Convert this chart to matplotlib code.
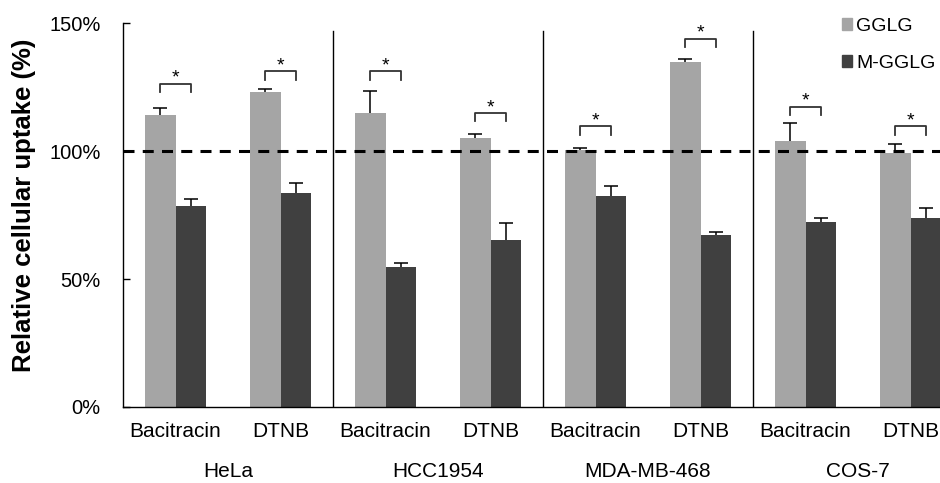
import numpy as np
import matplotlib
matplotlib.use('Agg')
from matplotlib import pyplot as plt
from matplotlib.patches import Patch
from matplotlib.transforms import blended_transform_factory

plt.rcParams['font.family'] = ['Liberation Sans', 'DejaVu Sans']

# 数据
cells = ['HeLa', 'HCC1954', 'MDA-MB-468', 'COS-7']
inhibitors = ['Bacitracin', 'DTNB']
gglg = [114, 123, 115, 105, 100.4, 135, 104, 99.2]
gglg_err = [3, 1.4, 8.4, 1.9, 1.0, 0.9, 7, 3.7]
mgglg = [78.5, 83.7, 54.6, 65.2, 82.4, 67.2, 72.2, 73.8]
mgglg_err = [2.8, 3.9, 1.6, 6.8, 4.0, 1.4, 1.7, 3.8]
sig_height = [126.4, 131.2, 131.2, 115, 109.7, 144, 117.4, 109.7]
legend_labels = ['GGLG', 'M-GGLG']

c1 = '#a5a5a5'
c2 = '#404040'

fig = plt.figure(figsize=(9.4, 4.83), dpi=100)
ax = fig.add_axes([123 / 940, 1 - 407 / 483, 840 / 940, 383.7 / 483])

n = len(gglg)
x = np.arange(n)
w = 0.286
ax.bar(x - w / 2, gglg, w, color=c1)
ax.bar(x + w / 2, mgglg, w, color=c2)
for xs, ys, es in [(x - w / 2, gglg, gglg_err), (x + w / 2, mgglg, mgglg_err)]:
    eb = ax.errorbar(xs, ys, yerr=[np.zeros(n), es], fmt='none',
                     ecolor='black', elinewidth=1.1, capsize=5, capthick=1.1)
    eb[1][0].set_visible(False)  # 只保留上方的横线

# 显著性标记
for i in range(n):
    h = sig_height[i]
    ax.plot([x[i] - w / 2, x[i] - w / 2, x[i] + w / 2, x[i] + w / 2],
            [h - 3.2, h, h, h - 3.2], color='#333333', lw=1.3)
    ax.text(x[i], h + 0.3, '*', ha='center', va='baseline', fontsize=14)

# 100% 虚线
ax.axhline(100, color='black', lw=2.2, linestyle=(0, (3.6, 2.7)), zorder=5)

# 分隔线
for s in [1.5, 3.5, 5.5]:
    ax.plot([s, s], [0, 147], color='black', lw=1.0)

ax.set_xlim(-0.5, n - 0.5)
ax.set_ylim(0, 150)
ax.set_yticks([0, 50, 100, 150])
ax.set_yticklabels(['0%', '50%', '100%', '150%'])
ax.tick_params(axis='y', direction='in', length=5, width=1, pad=16, labelsize=14.5)
ax.set_xticks(x)
ax.set_xticklabels(inhibitors * len(cells))
ax.tick_params(axis='x', length=0, pad=11, labelsize=15)

ax.spines['top'].set_visible(False)
ax.spines['right'].set_visible(False)
ax.spines['left'].set_linewidth(1.0)
ax.spines['bottom'].set_linewidth(1.0)

trans = blended_transform_factory(ax.transData, ax.transAxes)
for j, c in enumerate(cells):
    ax.text(2 * j + 0.5, -0.167, c, transform=trans, ha='center', va='center', fontsize=15)

fig.text(24 / 940, 1 - 205 / 483, 'Relative cellular uptake (%)', rotation=90,
         ha='center', va='center', fontsize=18.5, fontweight='bold')

handles = [Patch(color=c1), Patch(color=c2)]
fig.legend(handles, legend_labels, loc='upper left', bbox_to_anchor=(834 / 940, 1 - 10 / 483),
           frameon=False, fontsize=14, handlelength=0.55, handleheight=0.55,
           handletextpad=0.2, labelspacing=1.05, borderaxespad=0)

plt.savefig('out.png', dpi=100)
